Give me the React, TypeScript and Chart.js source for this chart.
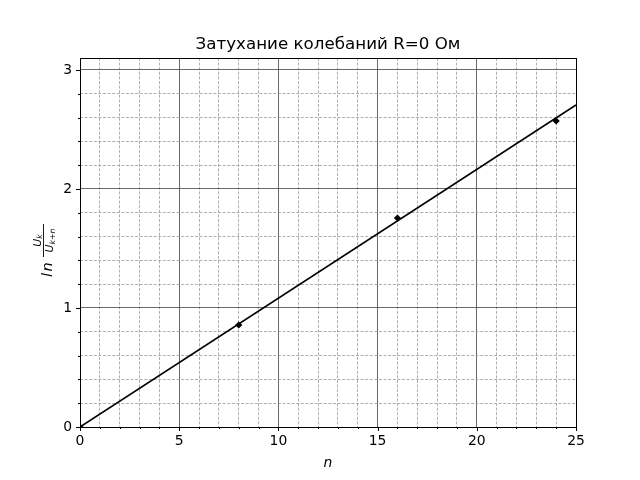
import React, { useEffect, useRef } from "react";
import { Chart, registerables } from "chart.js";

Chart.register(...registerables);

const titleText = "Затухание колебаний R=0 Ом";
const xLabel = "n";
const nValues = [0, 8, 16, 24];
const lnValues = [0, 0.857, 1.756, 2.571];
const fitX = [0, 25];
const fitY = [0, 2.705];
const xTickValues = [0, 1, 2, 3, 4, 5, 6, 7, 8, 9, 10, 11, 12, 13, 14, 15, 16, 17, 18, 19, 20, 21, 22, 23, 24, 25];
const yTickValues = [0, 0.2, 0.4, 0.6, 0.8, 1, 1.2, 1.4, 1.6, 1.8, 2, 2.2, 2.4, 2.6, 2.8, 3];
const xMajorStep = 5;
const yMajorStep = 1;

const FONT = "'DejaVu Sans', sans-serif";

const isMajor = (v: number, step: number) => Math.abs(v / step - Math.round(v / step)) < 1e-6;

const decorPlugin = {
  id: "decor",
  beforeDatasetsDraw(chart: any) {
    const { ctx, chartArea } = chart;
    const xs = chart.scales.x;
    const ys = chart.scales.y;
    ctx.save();
    ctx.strokeStyle = "#000";
    ctx.lineWidth = 1;
    xs.ticks.forEach((t: any) => {
      const px = Math.round(xs.getPixelForValue(t.value)) + 0.5;
      const len = isMajor(t.value, xMajorStep) ? 4 : 2;
      ctx.beginPath();
      ctx.moveTo(px, chartArea.bottom);
      ctx.lineTo(px, chartArea.bottom + len);
      ctx.stroke();
    });
    ys.ticks.forEach((t: any) => {
      const py = Math.round(ys.getPixelForValue(t.value)) + 0.5;
      const len = isMajor(t.value, yMajorStep) ? 4 : 2;
      ctx.beginPath();
      ctx.moveTo(chartArea.left, py);
      ctx.lineTo(chartArea.left - len, py);
      ctx.stroke();
    });
    ctx.restore();
  },
  afterDraw(chart: any) {
    const { ctx, chartArea } = chart;
    ctx.save();
    ctx.strokeStyle = "#000";
    ctx.lineWidth = 1;
    ctx.strokeRect(
      Math.round(chartArea.left) + 0.5,
      Math.round(chartArea.top) + 0.5,
      Math.round(chartArea.right - chartArea.left),
      Math.round(chartArea.bottom - chartArea.top)
    );
    const cx = (chartArea.left + chartArea.right) / 2;
    ctx.fillStyle = "#000";
    ctx.font = `16.7px ${FONT}`;
    ctx.textAlign = "center";
    ctx.textBaseline = "alphabetic";
    ctx.fillText(titleText, cx, 49);
    ctx.font = `italic 13.9px ${FONT}`;
    ctx.fillText(xLabel, cx, 467);
    // y label: ln (U_k / U_{k+n})
    ctx.translate(52, 280);
    ctx.rotate(-Math.PI / 2);
    ctx.textAlign = "left";
    ctx.font = `italic 14.5px ${FONT}`;
    const lw = ctx.measureText("l").width;
    ctx.fillText("l", 3, 0);
    ctx.fillText("n", 3 + lw + 1.5, 0);
    const fx = 23;
    const fw = 33;
    ctx.fillRect(fx, -9, fw, 0.9);
    const bigF = `italic 11px ${FONT}`;
    const smallF = `italic 7.8px ${FONT}`;
    ctx.font = bigF;
    const uw = ctx.measureText("U").width;
    ctx.font = smallF;
    const kw = ctx.measureText("k").width;
    const kn = "k+n";
    const knw = ctx.measureText(kn).width;
    let sx = fx + (fw - uw - kw) / 2;
    ctx.font = bigF;
    ctx.fillText("U", sx, -11.5);
    ctx.font = smallF;
    ctx.fillText("k", sx + uw, -9.8);
    sx = fx + (fw - uw - knw) / 2;
    ctx.font = bigF;
    ctx.fillText("U", sx, 0.5);
    ctx.font = smallF;
    ctx.fillText(kn, sx + uw, 3);
    ctx.restore();
  },
};

export default function App() {
  const ref = useRef<HTMLCanvasElement | null>(null);
  useEffect(() => {
    document.body.style.margin = "0";
    const canvas = ref.current;
    if (!canvas) return;
    const chart = new Chart(canvas, {
      type: "scatter",
      data: {
        datasets: [
          {
            label: "fit",
            data: fitX.map((x, i) => ({ x, y: fitY[i] })),
            showLine: true,
            borderColor: "#000",
            borderWidth: 1.6,
            pointRadius: 0,
            pointHoverRadius: 0,
          },
          {
            label: "data",
            data: nValues.map((x, i) => ({ x, y: lnValues[i] })),
            showLine: false,
            pointStyle: "rectRot",
            pointRadius: 3.6,
            backgroundColor: "#000",
            borderColor: "#000",
            borderWidth: 0,
          },
        ],
      },
      options: {
        responsive: false,
        animation: false,
        events: [],
        layout: { padding: { left: 0, right: 64, top: 58, bottom: 0 } },
        plugins: {
          legend: { display: false },
          title: { display: false },
          tooltip: { enabled: false },
        },
        scales: {
          x: {
            type: "linear",
            min: 0,
            max: 25,
            afterBuildTicks: (s: any) => {
              s.ticks = xTickValues.map((v) => ({ value: v }));
            },
            afterFit: (s: any) => {
              s.height = 53;
            },
            ticks: {
              autoSkip: false,
              maxRotation: 0,
              padding: 6,
              color: "#000",
              font: { family: "DejaVu Sans", size: 13.9 },
              callback: (v: any) => (isMajor(Number(v), xMajorStep) ? String(v) : ""),
            },
            grid: {
              drawTicks: false,
              color: (c: any) => (c.tick && isMajor(c.tick.value, xMajorStep) ? "#444" : "#9a9a9a"),
              lineWidth: 0.8,
            },
            border: {
              display: false,
              dash: (c: any) => (c.tick && !isMajor(c.tick.value, xMajorStep) ? [3, 1.6] : []),
            },
          },
          y: {
            type: "linear",
            min: 0,
            max: 3.1,
            afterBuildTicks: (s: any) => {
              s.ticks = yTickValues.map((v) => ({ value: v }));
            },
            afterFit: (s: any) => {
              s.width = 80;
            },
            ticks: {
              autoSkip: false,
              padding: 8,
              color: "#000",
              font: { family: "DejaVu Sans", size: 13.9 },
              callback: (v: any) => {
                const n = Number(v);
                return isMajor(n, yMajorStep) ? String(Math.round(n)) : "";
              },
            },
            grid: {
              drawTicks: false,
              color: (c: any) => (c.tick && isMajor(c.tick.value, yMajorStep) ? "#444" : "#9a9a9a"),
              lineWidth: 0.8,
            },
            border: {
              display: false,
              dash: (c: any) => (c.tick && !isMajor(c.tick.value, yMajorStep) ? [3, 1.6] : []),
            },
          },
        },
      },
      plugins: [decorPlugin],
    } as any);
    return () => chart.destroy();
  }, []);
  return (
    <div style={{ position: "absolute", left: 0, top: 0, width: 640, height: 480 }}>
      <canvas ref={ref} width={640} height={480} style={{ width: 640, height: 480, display: "block" }} />
    </div>
  );
}
